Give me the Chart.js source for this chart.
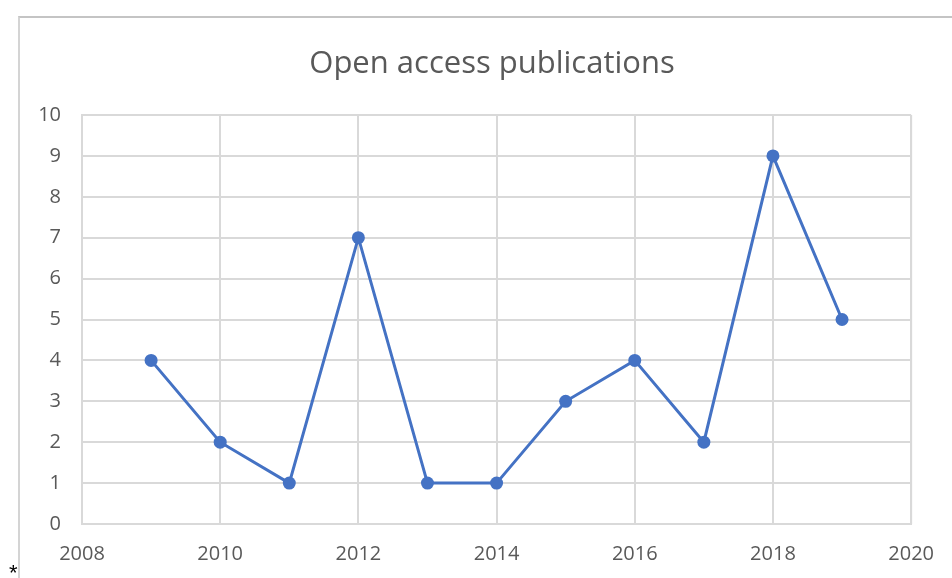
<!DOCTYPE html>
<html>
<head>
<meta charset="utf-8">
<script src="https://cdn.jsdelivr.net/npm/chart.js@4/dist/chart.umd.min.js"></script>
<style>
  html, body { margin: 0; padding: 0; background: #fff; overflow: hidden; }
  #wrap { position: relative; width: 952px; height: 578px; }
  #frame { position: absolute; left: 18px; top: 16px; width: 1000px; height: 700px;
           border-top: 2px solid #c4c4c4; border-left: 2px solid #d4d4d4; }
  #star { position: absolute; left: 9px; top: 562px; font: 22px "Liberation Sans", sans-serif; line-height: 22px; color: #000; }
  canvas { position: absolute; left: 0; top: 0; }
</style>
</head>
<body>
<div id="wrap">
  <div id="frame"></div>
  <canvas id="chart" width="952" height="578"></canvas>
  <span id="star">*</span>
</div>
<script>
// datos
const years = [2009, 2010, 2011, 2012, 2013, 2014, 2015, 2016, 2017, 2018, 2019];
const publications = [4, 2, 1, 7, 1, 1, 3, 4, 2, 9, 5];
const chartTitle = "Open access publications";

const gridColor = "#d9d9d9";
const textColor = "#595959";
const blue = "#4472C4";

new Chart("chart", {
  type: "line",
  data: {
    datasets: [{
      label: chartTitle,
      data: years.map((y, i) => ({ x: y, y: publications[i] })),
      borderColor: blue,
      backgroundColor: blue,
      borderWidth: 3,
      pointRadius: 6.5,
      pointBorderWidth: 0,
      pointBackgroundColor: blue,
      tension: 0
    }]
  },
  options: {
    responsive: false,
    animation: false,
    layout: { padding: { left: 0, right: 40, top: 0, bottom: 0 } },
    plugins: {
      legend: { display: false },
      tooltip: { enabled: false },
      title: {
        display: true,
        text: chartTitle,
        color: textColor,
        font: { family: "'Open Sans', sans-serif", size: 31, weight: "normal" },
        padding: { top: 46, bottom: 31.8 }
      }
    },
    scales: {
      x: {
        type: "linear",
        min: 2008,
        max: 2020,
        afterFit: s => { s.height = 54; },
        ticks: {
          stepSize: 2,
          color: textColor,
          padding: 18,
          font: { family: "'Open Sans', sans-serif", size: 20 },
          callback: v => String(v)
        },
        grid: { color: gridColor, lineWidth: 2, drawTicks: false },
        border: { color: gridColor, width: 2 }
      },
      y: {
        min: 0,
        max: 10,
        afterFit: s => { s.width = 82; },
        ticks: {
          stepSize: 1,
          color: textColor,
          padding: 21,
          font: { family: "'Open Sans', sans-serif", size: 20 }
        },
        grid: { color: gridColor, lineWidth: 2, drawTicks: false },
        border: { color: gridColor, width: 2 }
      }
    }
  },
  plugins: [{
    id: "rightEdge",
    afterLayout(chart) {
      // centrar el titulo un poco a la derecha, como en el original
      if (chart.titleBlock) {
        chart.titleBlock.left = 72;
        chart.titleBlock.right = 912;
      }
    },
    afterDraw(chart) {
      const a = chart.chartArea, ctx = chart.ctx;
      ctx.save();
      ctx.strokeStyle = gridColor;
      ctx.lineWidth = 2;
      ctx.beginPath();
      ctx.moveTo(a.right, a.top);
      ctx.lineTo(a.right, a.bottom);
      ctx.stroke();
      ctx.restore();
    }
  }]
});
</script>
</body>
</html>
